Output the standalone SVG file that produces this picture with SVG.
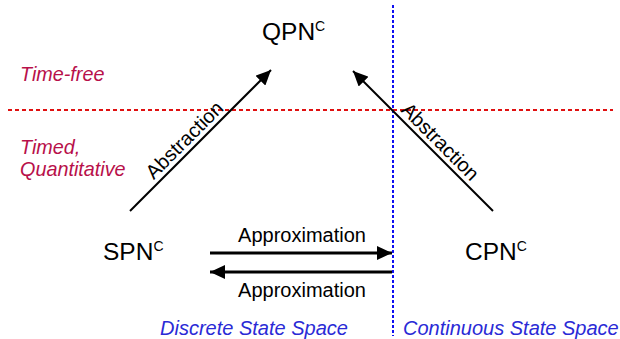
<svg xmlns="http://www.w3.org/2000/svg" width="620" height="339" viewBox="0 0 620 339">
<defs>
<marker id="ah" markerUnits="userSpaceOnUse" markerWidth="16" markerHeight="14" refX="15" refY="7" orient="auto">
<path d="M0,0 L15,7 L0,14 Z" fill="#000"/>
</marker>
</defs>
<style>
.n{font-family:"Liberation Sans",Arial,sans-serif;font-size:24.5px;fill:#000}
.s{font-size:14px}
.l{font-family:"Liberation Sans",Arial,sans-serif;font-size:20px;fill:#000}
.r{font-family:"Liberation Sans",Arial,sans-serif;font-size:19.8px;font-style:italic;fill:#b8104a}
.b{font-family:"Liberation Sans",Arial,sans-serif;font-size:20px;font-style:italic;fill:#2a2ad6}
.c{stroke:#000;fill:none;marker-end:url(#ah)}
</style>
<rect width="620" height="339" fill="#fff"/>
<g id="guides">
<line x1="8" y1="110" x2="613" y2="110" stroke="#e01010" stroke-width="2" stroke-dasharray="4,3"/>
<line x1="393" y1="5" x2="393" y2="336" stroke="#1010f0" stroke-width="2" stroke-dasharray="3,2"/>
</g>
<g id="labels">
<text class="r" x="20" y="81">Time-free</text>
<text class="r" x="20" y="154">Timed,</text>
<text class="r" x="20" y="176">Quantitative</text>
<text class="b" x="160" y="335">Discrete State Space</text>
<text class="b" x="403" y="335">Continuous State Space</text>
</g>
<g id="QPN"><text class="n" x="262" y="40">QPN<tspan class="s" dy="-9">C</tspan></text></g>
<g id="SPN"><text class="n" x="103" y="260">SPN<tspan class="s" dy="-9">C</tspan></text></g>
<g id="CPN"><text class="n" x="465" y="260">CPN<tspan class="s" dy="-9">C</tspan></text></g>
<g id="connectors">
<line class="c" x1="130" y1="211" x2="271" y2="70" stroke-width="2"/>
<line class="c" x1="493" y1="211" x2="353" y2="71" stroke-width="2"/>
<line class="c" x1="210" y1="253" x2="392" y2="253" stroke-width="3"/>
<line class="c" x1="392" y1="272" x2="210" y2="272" stroke-width="3"/>
<text class="l" transform="translate(192.7,148.3) rotate(-45)" x="0" y="-5" text-anchor="middle">Abstraction</text>
<text class="l" transform="translate(432,150) rotate(45)" x="0" y="-5" text-anchor="middle">Abstraction</text>
<text class="l" x="302" y="242" text-anchor="middle">Approximation</text>
<text class="l" x="302" y="297" text-anchor="middle">Approximation</text>
</g>
</svg>
